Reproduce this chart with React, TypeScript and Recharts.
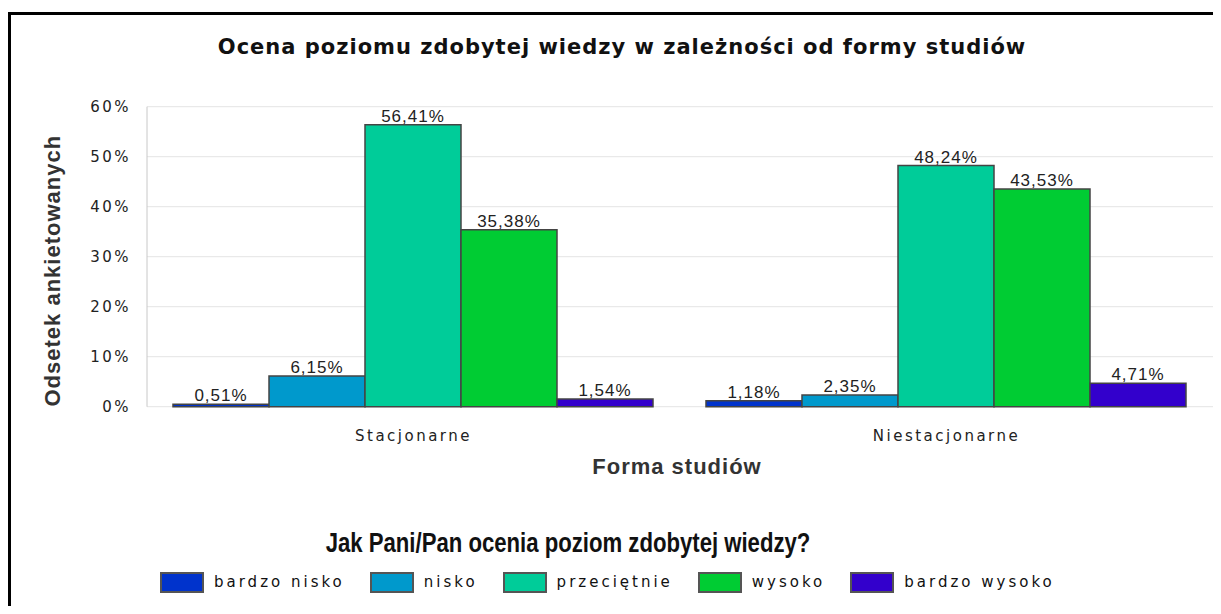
import React from 'react';
import { BarChart, Bar, XAxis, YAxis, CartesianGrid, LabelList, Legend, Label } from 'recharts';

const chartTitle = 'Ocena poziomu zdobytej wiedzy w zależności od formy studiów';
const legendTitle = 'Jak Pani/Pan ocenia poziom zdobytej wiedzy?';
const xAxisTitle = 'Forma studiów';
const yAxisTitle = 'Odsetek ankietowanych';

const categories = ['Stacjonarne', 'Niestacjonarne'];
const seriesNames = ['bardzo nisko', 'nisko', 'przeciętnie', 'wysoko', 'bardzo wysoko'];
const bardzoNisko = [0.51, 1.18];
const nisko = [6.15, 2.35];
const przecietnie = [56.41, 48.24];
const wysoko = [35.38, 43.53];
const bardzoWysoko = [1.54, 4.71];
const yTicks = [0, 10, 20, 30, 40, 50, 60];

const seriesValues = [bardzoNisko, nisko, przecietnie, wysoko, bardzoWysoko];
const seriesColors = ['#0033CC', '#0099CC', '#00CC99', '#00CC33', '#3300CC'];

const data = categories.map((c, i) => {
  const row: Record<string, string | number> = { category: c };
  seriesValues.forEach((vals, k) => {
    row['s' + k] = vals[i];
  });
  return row;
});

const fmt = (v: any) => Number(v).toFixed(2).replace('.', ',') + '%';

const W = 1213;
const H = 598;

const LegendBox = (props: any) => {
  const payload = [...(props.payload || [])].sort(
    (a: any, b: any) => seriesNames.indexOf(a.value) - seriesNames.indexOf(b.value)
  );
  return (
    <div style={{ width: W, fontFamily: 'DejaVu Sans', color: '#111' }}>
      <div style={{ height: 40, position: 'relative' }}>
        <div
          style={{
            position: 'absolute',
            left: 560,
            top: 0,
            lineHeight: '40px',
            whiteSpace: 'nowrap',
            fontFamily: 'Liberation Sans',
            fontWeight: 'bold',
            fontSize: 27,
            transform: 'translateX(-50%) scaleX(0.82)',
            color: '#111',
          }}
        >
          {legendTitle}
        </div>
      </div>
      <div style={{ display: 'flex', alignItems: 'center', height: 38, paddingLeft: 152 }}>
        {payload.map((p: any, i: number) => (
          <div key={i} style={{ display: 'flex', alignItems: 'center', marginRight: 25 }}>
            <div
              style={{
                width: 44,
                height: 21,
                boxSizing: 'border-box',
                background: p.color,
                border: '2px solid #555',
                marginRight: 10,
              }}
            />
            <span style={{ fontSize: 15, letterSpacing: '3px', whiteSpace: 'nowrap' }}>{p.value}</span>
          </div>
        ))}
      </div>
    </div>
  );
};

export default function App() {
  return (
    <div style={{ position: 'relative', width: W, height: H, background: '#fff' }}>
      <div
        style={{
          position: 'absolute',
          left: 0,
          top: 4,
          width: W,
          height: H - 4,
          boxSizing: 'border-box',
          borderLeft: '3px solid #000',
          borderTop: '3px solid #000',
          pointerEvents: 'none',
        }}
      />
      <div
        style={{
          position: 'absolute',
          left: 614,
          top: 29,
          transform: 'translateX(-50%)',
          whiteSpace: 'nowrap',
          fontFamily: 'DejaVu Sans',
          fontWeight: 'bold',
          fontSize: 21,
          lineHeight: '21px',
          letterSpacing: '1px',
          color: '#111',
        }}
      >
        {chartTitle}
      </div>
      <BarChart
        width={W}
        height={H}
        data={data}
        margin={{ top: 98.7, right: 8, left: 79, bottom: 119.3 }}
        barCategoryGap={26}
        barGap={0}
      >
        <CartesianGrid vertical={false} stroke="#e4e4e4" />
        <XAxis
          xAxisId="edge"
          type="number"
          domain={[0, categories.length]}
          ticks={[...categories.map((_, i) => i), categories.length]}
          tick={false}
          tickSize={10}
          height={0}
          axisLine={{ stroke: '#b0b0b0' }}
          tickLine={{ stroke: '#c8c8c8' }}
        />
        <XAxis
          dataKey="category"
          axisLine={false}
          tickLine={false}
          tickSize={0}
          tickMargin={24}
          height={80}
          tick={{ fill: '#222', fontSize: 15, fontFamily: 'DejaVu Sans', letterSpacing: 2.5 } as any}
        >
          <Label
            value={xAxisTitle}
            position="center"
            dx={-3}
            dy={19}
            style={{ fontFamily: 'Liberation Sans', fontWeight: 'bold', fontSize: 22, letterSpacing: '1px', fill: '#333' }}
          />
        </XAxis>
        <YAxis
          domain={[0, 60]}
          ticks={yTicks}
          width={60}
          tickFormatter={(v: number) => v + '%'}
          axisLine={{ stroke: '#c8c8c8' }}
          tickLine={false}
          tickSize={0}
          tickMargin={16}
          tick={{ fill: '#222', fontSize: 15, fontFamily: 'DejaVu Sans', letterSpacing: 2.5 } as any}
        >
          <Label
            value={yAxisTitle}
            position="center"
            angle={-90}
            dx={-65}
            dy={14}
            style={{ fontFamily: 'Liberation Sans', fontWeight: 'bold', fontSize: 22, letterSpacing: '1px', fill: '#333' }}
          />
        </YAxis>
        <YAxis
          yAxisId="r"
          orientation="right"
          domain={[0, 60]}
          width={0}
          tick={false}
          tickLine={false}
          axisLine={{ stroke: '#c8c8c8' }}
        />
        {seriesNames.map((name, k) => (
          <Bar
            key={name}
            dataKey={'s' + k}
            name={name}
            fill={seriesColors[k]}
            stroke="#444"
            strokeWidth={1.5}
            isAnimationActive={false}
          >
            <LabelList
              dataKey={'s' + k}
              position="top"
              offset={3}
              formatter={fmt}
              style={{ fontFamily: 'Liberation Sans', fontSize: 17, letterSpacing: '1px', fill: '#222' }}
            />
          </Bar>
        ))}
        <Legend
          layout="horizontal"
          verticalAlign="middle"
          align="center"
          content={<LegendBox />}
          wrapperStyle={{ top: 515, left: 0, width: W }}
        />
      </BarChart>
    </div>
  );
}
